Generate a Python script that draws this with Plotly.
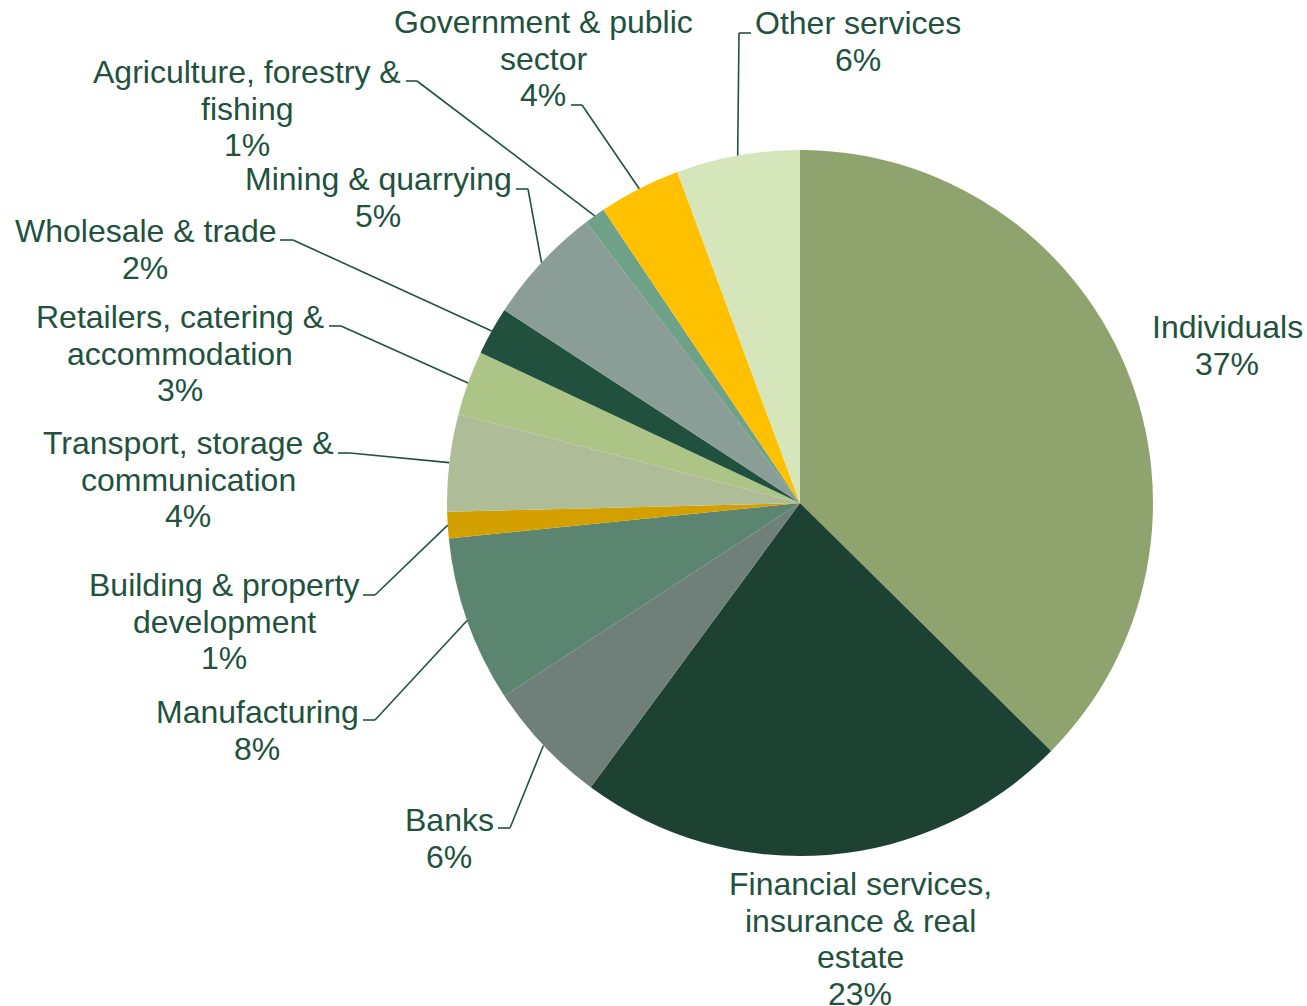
import math
import plotly.graph_objects as go

# ---------------- data ----------------
categories = [
    "Individuals",
    "Financial services, insurance & real estate",
    "Banks",
    "Manufacturing",
    "Building & property development",
    "Transport, storage & communication",
    "Retailers, catering & accommodation",
    "Wholesale & trade",
    "Mining & quarrying",
    "Agriculture, forestry & fishing",
    "Government & public sector",
    "Other services",
]
values = [37.4, 22.7, 5.7, 7.6, 1.2, 4.45, 2.95, 2.2, 5.45, 0.95, 3.75, 5.65]

# label wrapping as displayed
label_lines = [
    ["Individuals"],
    ["Financial services,", "insurance & real", "estate"],
    ["Banks"],
    ["Manufacturing"],
    ["Building & property", "development"],
    ["Transport, storage &", "communication"],
    ["Retailers, catering &", "accommodation"],
    ["Wholesale & trade"],
    ["Mining & quarrying"],
    ["Agriculture, forestry &", "fishing"],
    ["Government & public", "sector"],
    ["Other services"],
]

# ---------------- styling / layout ----------------
colors = ["#8FA36F", "#1D4233", "#6F7F79", "#5B8570", "#D3A000", "#AEBD97",
          "#ADC487", "#21513E", "#8A9E97", "#6FA088", "#FFC000", "#D5E6BA"]
TEXT = "#22523E"
W, H = 1307, 1006
CX, CY, R = 800, 503, 353
FONT = "Liberation Sans, Arial, sans-serif"
FS = 32
LS = 36.5

# label centre x and first-line y (pixels)
label_pos = [(1227, 327), (860, 884), (449, 820), (257, 712), (224, 585), (188, 443),
             (180, 317), (145, 231), (378, 179), (247, 72), (543, 22), (858, 23)]
# leader tick: (join_x, join_y, end_x) or None
ticks = [None, None, (510, 828, 498), (375, 720, 363), (375, 595, 363), (350, 453, 338),
         (341, 326, 329), (293, 240, 280), (528, 189, 516), (417, 81, 406),
         (582, 105, 571), (739, 33, 751)]


def px(x):
    return x / W


def py(y):
    return 1 - y / H


fig = go.Figure(go.Pie(
    labels=categories, values=values, sort=False, direction="clockwise", rotation=0,
    marker=dict(colors=colors, line=dict(width=0)), textinfo="none", hoverinfo="label+percent",
    domain=dict(x=[px(CX - R), px(CX + R)], y=[py(CY + R), py(CY - R)]),
    showlegend=False,
))

total = sum(values)
annotations = []
shapes = []
cum = 0.0
for i, v in enumerate(values):
    mid = (cum + v / 2) / total
    cum += v
    pct = v / total * 100
    lines = label_lines[i] + [f"{pct:.0f}%"]
    lx, ly = label_pos[i]
    for j, t in enumerate(lines):
        annotations.append(dict(
            x=px(lx), y=py(ly + j * LS), xref="paper", yref="paper", text=t,
            showarrow=False, xanchor="center", yanchor="middle",
            font=dict(family=FONT, size=FS, color=TEXT)))
    if ticks[i] is not None:
        ang = mid * 2 * math.pi
        ex = CX + R * math.sin(ang)
        ey = CY - R * math.cos(ang)
        jx, jy, tx = ticks[i]
        shapes.append(dict(type="line", xref="paper", yref="paper",
                           x0=px(ex), y0=py(ey), x1=px(jx), y1=py(jy),
                           line=dict(color=TEXT, width=1.6)))
        shapes.append(dict(type="line", xref="paper", yref="paper",
                           x0=px(jx), y0=py(jy), x1=px(tx), y1=py(jy),
                           line=dict(color=TEXT, width=1.6)))

fig.update_layout(
    width=W, height=H, margin=dict(l=0, r=0, t=0, b=0),
    paper_bgcolor="white", plot_bgcolor="white",
    annotations=annotations, shapes=shapes,
)

fig.write_html("out.html", config={"displayModeBar": False},
               post_script="document.body.style.margin='0';document.body.style.overflow='hidden';")
